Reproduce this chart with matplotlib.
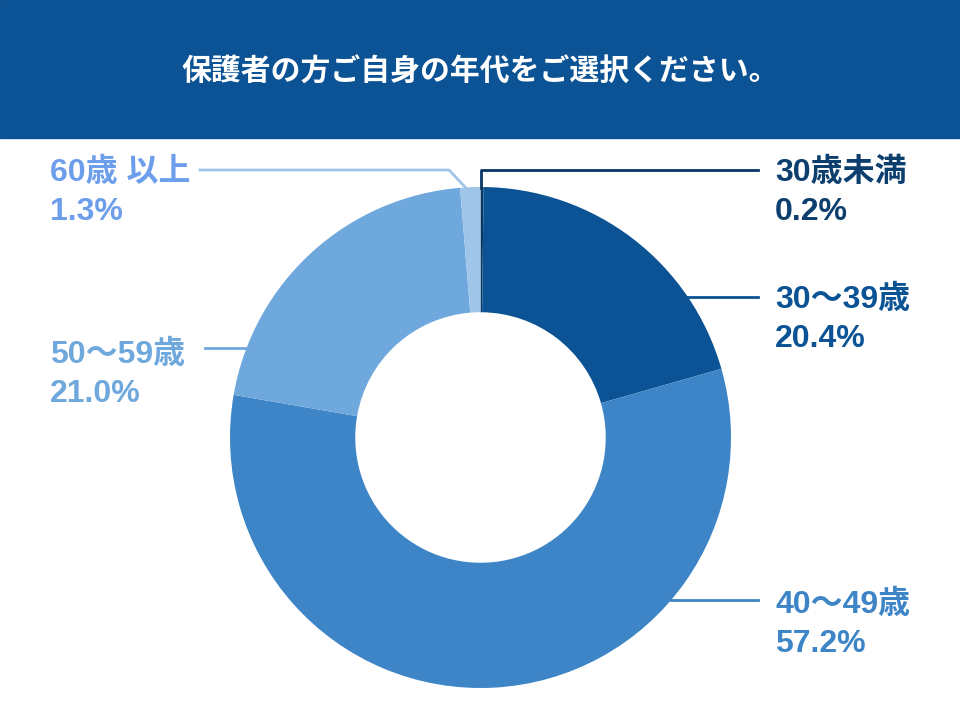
import numpy as np
import matplotlib.pyplot as plt
from matplotlib.patches import Rectangle

plt.rcParams['font.family'] = ['Liberation Sans', 'Noto Sans CJK JP', 'DejaVu Sans']

title = "保護者の方ご自身の年代をご選択ください。"
labels = ["30歳未満", "30～39歳", "40～49歳", "50～59歳", "60歳 以上"]
values = [0.2, 20.4, 57.2, 21.0, 1.3]
pct_labels = ["0.2%", "20.4%", "57.2%", "21.0%", "1.3%"]
slice_colors = ["#073763", "#0b5394", "#3d85c6", "#6fa8dc", "#9fc5e8"]
text_colors = ["#0c3f6e", "#0b5394", "#3d85c6", "#6fa8dc", "#6d9eeb"]

W, H = 960, 720
cx, cy, R = 480.5, H - 437.5, 250.5

fig = plt.figure(figsize=(9.6, 7.2), dpi=100)
ax = fig.add_axes([0, 0, 1, 1])

# title banner
ax.add_patch(Rectangle((0, H - 138), W, 138, color="#0b5394", zorder=1))
ax.text(W / 2, H - 72, title, color="white", fontsize=21.5, fontweight='bold',
        ha='center', va='center', zorder=2)

ax.pie(values, colors=slice_colors, startangle=90, counterclock=False,
       center=(cx, cy), radius=R, frame=True,
       wedgeprops=dict(width=R * 0.5, edgecolor='none'))
ax.set_xlim(0, W)
ax.set_ylim(0, H)
ax.set_aspect('equal')
ax.axis('off')

# leader lines
def edge_x(y, side):
    dy = y - cy
    return cx + side * np.sqrt(R ** 2 - dy ** 2)

top_y = H - 170
# 30歳未満: vertical from slice top then right
ax.plot([481, 481, 758], [cy + R - 1, top_y, top_y], color=slice_colors[0], lw=2, zorder=3)
# 60歳以上: diagonal up-left then left
ax.plot([466, 449, 200], [cy + R - 1, top_y, top_y], color=slice_colors[4], lw=2, zorder=3)
# 30～39
y1 = H - 297
ax.plot([edge_x(y1, 1), 758], [y1, y1], color=slice_colors[1], lw=2, zorder=3)
# 40～49
y2 = H - 600
ax.plot([edge_x(y2, 1), 758], [y2, y2], color=slice_colors[2], lw=2, zorder=3)
# 50～59
y3 = H - 348
ax.plot([205, edge_x(y3, -1)], [y3, y3], color=slice_colors[3], lw=2, zorder=3)

# labels: (x, y of first line)
label_pos = [(775, H - 173), (775, H - 300), (775, H - 605), (50, H - 355), (50, H - 173)]
for (x, y), lab, pct, col in zip(label_pos, labels, pct_labels, text_colors):
    ax.text(x, y, lab, color=col, fontsize=23, fontweight='bold', ha='left', va='center')
    ax.text(x, y - 39, pct, color=col, fontsize=23, fontweight='bold', ha='left', va='center')

fig.savefig("out.png", dpi=100, facecolor='white')
